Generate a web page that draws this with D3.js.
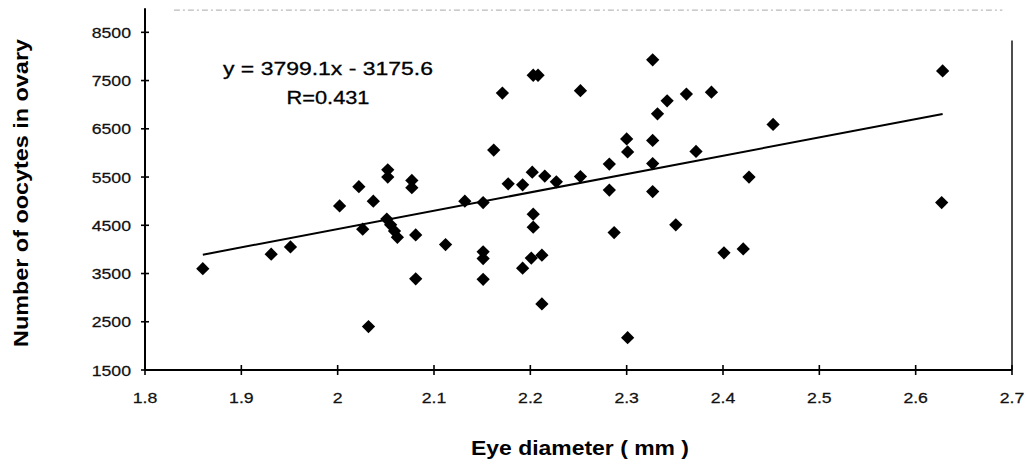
<!DOCTYPE html>
<html><head><meta charset="utf-8">
<script src="https://cdn.jsdelivr.net/npm/d3@7/dist/d3.min.js"></script>
<style>
html,body{margin:0;padding:0;background:#fff;}
svg{display:block;font-family:"Liberation Sans",Arial,sans-serif;}
</style></head>
<body><svg id="chart" width="1026" height="466"></svg>
<script>
const eyeDiameter = [1.860,1.931,1.951,2.002,2.022,2.037,2.026,2.052,2.052,2.077,2.077,2.051,2.055,2.059,2.062,2.081,2.081,2.032,2.112,2.132,2.151,2.151,2.151,2.151,2.162,2.171,2.203,2.208,2.177,2.192,2.202,2.215,2.227,2.252,2.252,2.203,2.203,2.192,2.201,2.212,2.212,2.282,2.282,2.287,2.300,2.301,2.301,2.327,2.327,2.327,2.327,2.332,2.342,2.362,2.388,2.372,2.351,2.401,2.421,2.427,2.452,2.628,2.627];
const oocytes = [3600,3900,4050,4900,5300,5000,4420,5650,5500,5430,5280,4630,4510,4380,4250,4300,3390,2400,4100,5000,4970,3950,3810,3380,6060,7240,7610,7610,5360,5340,5600,5520,5400,5510,7290,4730,4460,3610,3820,3880,2870,5770,5230,4350,6290,6020,2170,7930,6260,5780,5200,6810,7080,7220,7260,6030,4510,3930,4010,5500,6590,7700,4970];
const xTicks = [1.8,1.9,2.0,2.1,2.2,2.3,2.4,2.5,2.6,2.7];
const xTickLabels = ["1.8","1.9","2","2.1","2.2","2.3","2.4","2.5","2.6","2.7"];
const yTicks = [1500,2500,3500,4500,5500,6500,7500,8500];
const slope = 3799.1, intercept = -3175.6;
const equationText = ["y = 3799.1x - 3175.6", "R=0.431"];
const xTitle = "Eye diameter ( mm )";
const yTitle = "Number of oocytes in ovary";

const svg = d3.select("#chart");
const x = d3.scaleLinear().domain([1.8, 2.7]).range([145, 1012]);
const y = d3.scaleLinear().domain([1500, 9000]).range([370, 8.2]);
const stretch = 1.14;

// faint top border (scan residue)
svg.append("line")
  .attr("x1", x(1.83)).attr("x2", x(2.69))
  .attr("y1", y(8960)).attr("y2", y(8960))
  .attr("stroke", "#bbb").attr("stroke-width", 1.2).attr("stroke-dasharray", "6,3,2,3");
// right border
svg.append("line")
  .attr("x1", x(2.7)).attr("x2", x(2.7))
  .attr("y1", y(8330)).attr("y2", y(1500))
  .attr("stroke", "#222").attr("stroke-width", 1.6);

// y axis
const yAxis = svg.append("g").attr("transform", `translate(${x(1.8)},0)`);
yAxis.append("line").attr("x1",0).attr("x2",0).attr("y1",y(9000)).attr("y2",y(1500))
  .attr("stroke","#000").attr("stroke-width",2);
yAxis.selectAll("line.tick").data(yTicks).enter().append("line").attr("class","tick")
  .attr("x1",-4).attr("x2",4).attr("y1",d=>y(d)).attr("y2",d=>y(d))
  .attr("stroke","#000").attr("stroke-width",1.6);
yAxis.selectAll("text").data(yTicks).enter().append("text")
  .attr("transform",d=>`translate(-14,${y(d)}) scale(${stretch},1)`).attr("dy","0.36em")
  .attr("text-anchor","end").attr("font-size",15.5).attr("fill","#111")
  .attr("stroke","#111").attr("stroke-width",0.25)
  .text(d=>d);

// x axis
const xAxis = svg.append("g").attr("transform", `translate(0,${y(1500)})`);
xAxis.append("line").attr("x1",x(1.8)).attr("x2",x(2.7)).attr("y1",0).attr("y2",0)
  .attr("stroke","#000").attr("stroke-width",2);
xAxis.selectAll("line.tick").data(xTicks).enter().append("line").attr("class","tick")
  .attr("x1",d=>x(d)).attr("x2",d=>x(d)).attr("y1",-5).attr("y2",5)
  .attr("stroke","#000").attr("stroke-width",1.6);
xAxis.selectAll("text").data(xTicks).enter().append("text")
  .attr("transform",d=>`translate(${x(d)},33) scale(${stretch},1)`)
  .attr("text-anchor","middle").attr("font-size",15.5).attr("fill","#111")
  .attr("stroke","#111").attr("stroke-width",0.25)
  .text((d,i)=>xTickLabels[i]);

// regression line
const xmin = d3.min(eyeDiameter), xmax = d3.max(eyeDiameter);
svg.append("line")
  .attr("x1",x(xmin)).attr("y1",y(slope*xmin+intercept))
  .attr("x2",x(xmax)).attr("y2",y(slope*xmax+intercept))
  .attr("stroke","#000").attr("stroke-width",2);

// points
const sym = d3.symbol().type(d3.symbolSquare).size(88);
svg.selectAll("path.pt").data(eyeDiameter).enter().append("path").attr("class","pt")
  .attr("d", sym)
  .attr("transform",(d,i)=>`translate(${x(d)},${y(oocytes[i])}) rotate(45)`)
  .attr("fill","#000");

// equation
const eqLen = [210, 83];
svg.selectAll("text.eq").data(equationText).enter().append("text").attr("class","eq")
  .attr("x", 328).attr("y",(d,i)=>75+i*29)
  .attr("text-anchor","middle").attr("font-size",18.5).attr("fill","#000")
  .attr("textLength",(d,i)=>eqLen[i]).attr("lengthAdjust","spacingAndGlyphs")
  .attr("stroke","#000").attr("stroke-width",0.3)
  .text(d=>d);

// titles
svg.append("text").attr("x",580).attr("y",455).attr("text-anchor","middle")
  .attr("font-size",19.5).attr("font-weight","bold")
  .attr("textLength",218).attr("lengthAdjust","spacingAndGlyphs").text(xTitle);
svg.append("text").attr("transform","translate(28,193) rotate(-90)").attr("text-anchor","middle")
  .attr("font-size",19.5).attr("font-weight","bold")
  .attr("textLength",308).attr("lengthAdjust","spacingAndGlyphs").text(yTitle);
</script></body></html>
